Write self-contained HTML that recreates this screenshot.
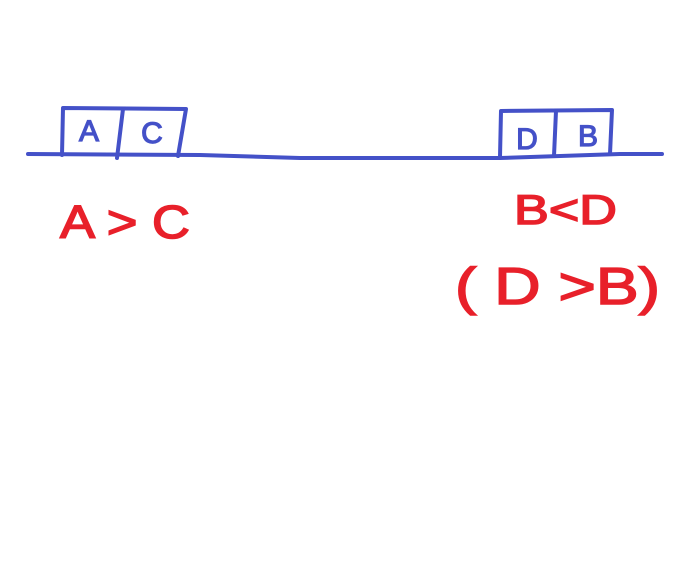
<!DOCTYPE html>
<html><head><meta charset="utf-8"><style>
html,body{margin:0;padding:0;background:#fff;width:696px;height:564px;overflow:hidden}
</style></head><body>
<svg width="696" height="564" viewBox="0 0 696 564" xmlns="http://www.w3.org/2000/svg">
<g fill="none" stroke="#4451c8" stroke-width="4" stroke-linecap="round" stroke-linejoin="round">
<path d="M28 154 L200 155 L300 158 L500 158 L620 154 L662 154"/>
<path d="M62 155 L63 108 L186 109 L178 156"/>
<path d="M123 109 L117 158"/>
<path d="M500 157 L501 111 L612 110 L610 154"/>
<path d="M556 111 L554 156"/>
</g>
<g font-family="Liberation Sans, sans-serif" fill="#4451c8" stroke="#4451c8" stroke-width="1.2" font-size="30" text-anchor="middle">
<text x="89" y="141">A</text>
<text x="152" y="143">C</text>
<text x="527" y="149">D</text>
<text x="588" y="146">B</text>
</g>
<g font-family="Liberation Sans, sans-serif" fill="#e8202a" stroke="#e8202a" stroke-width="1.5">
<text x="60" y="238" font-size="46" textLength="130" lengthAdjust="spacingAndGlyphs">A &gt; C</text>
<text x="514" y="224" font-size="42" textLength="103" lengthAdjust="spacingAndGlyphs">B&lt;D</text>
<text x="455" y="304" font-size="52" textLength="205" lengthAdjust="spacingAndGlyphs">( D &gt;B)</text>
</g>
</svg>
</body></html>
